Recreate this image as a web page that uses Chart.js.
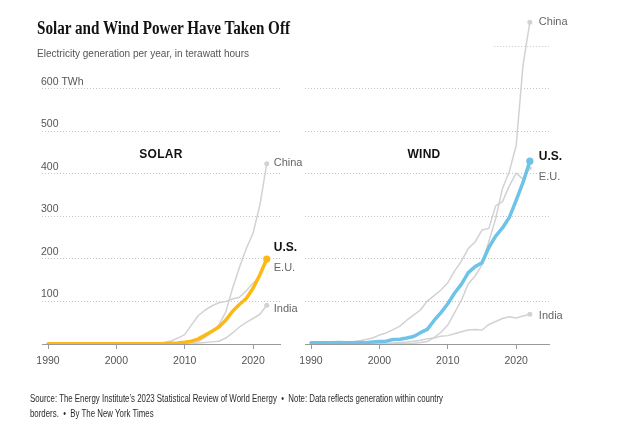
<!DOCTYPE html>
<html>
<head>
<meta charset="utf-8">
<script src="https://cdn.jsdelivr.net/npm/chart.js@4"></script>
<style>
  html, body { margin:0; padding:0; background:#fff; width:624px; height:444px; overflow:hidden; }
  body { position:relative; font-family:"Liberation Sans", Arial, sans-serif; }
  canvas { position:absolute; left:0; top:0; }
  .t { position:absolute; white-space:nowrap; line-height:1; transform-origin:0 50%; }
  .panel { position:absolute; font:bold 12px "Liberation Sans", Arial, sans-serif; letter-spacing:0.3px; color:#121212; transform:translate(-50%,-50%); white-space:nowrap; line-height:1; }
</style>
</head>
<body>
<canvas id="solar" width="624" height="444"></canvas>
<canvas id="wind" width="624" height="444"></canvas>

<div class="t" id="title" data-w="253" style="left:37px;top:17.5px;font:bold 18px 'Liberation Serif', serif;color:#121212;">Solar and Wind Power Have Taken Off</div>
<div class="t" id="sub" data-w="212" style="left:37px;top:46.5px;font:11px 'Liberation Sans', Arial, sans-serif;color:#555;">Electricity generation per year, in terawatt hours</div>
<div class="panel" style="left:161px;top:154px;">SOLAR</div>
<div class="panel" style="left:424px;top:154px;">WIND</div>
<div class="t" id="foot1" data-w="413" style="left:30px;top:392.5px;font:10px 'Liberation Sans', Arial, sans-serif;color:#2a2a2a;">Source: The Energy Institute’s 2023 Statistical Review of World Energy &nbsp;•&nbsp; Note: Data reflects generation within country</div>
<div class="t" id="foot2" style="left:30px;top:407.5px;font:10px 'Liberation Sans', Arial, sans-serif;color:#2a2a2a;">borders. &nbsp;•&nbsp; By The New York Times</div>

<script>
// ---------- DATA ----------
const YEARS = [1990,1991,1992,1993,1994,1995,1996,1997,1998,1999,
               2000,2001,2002,2003,2004,2005,2006,2007,2008,2009,
               2010,2011,2012,2013,2014,2015,2016,2017,2018,2019,
               2020,2021,2022];

const X_TICKS = [1990, 2000, 2010, 2020];
const Y_TICKS = [0, 100, 200, 300, 400, 500, 600];
const Y_TICK_LABELS = ['', '100', '200', '300', '400', '500', '600 TWh'];

// Solar generation, TWh
const SOLAR_US    = [0.4,0.5,0.4,0.5,0.5,0.5,0.5,0.5,0.5,0.5,
                     0.5,0.5,0.6,0.5,0.6,0.6,0.5,0.6,1.9,2.2,
                     3.9,6.8,12,21,30,40,56,77,93,107,
                     131,163,200];
const SOLAR_CHINA = [0,0,0,0,0,0,0,0,0,0,
                     0,0,0,0,0,0,0,0,0.2,0.4,
                     0.7,2.6,6.4,15.5,29,45,75,131,180,224,
                     261,327,424];
const SOLAR_EU    = [0,0,0,0,0,0,0,0,0,0.1,
                     0.1,0.2,0.3,0.5,0.8,1.5,2.5,4,7,14,
                     22,45,67,80,90,97,100,106,110,125,
                     143,160,198];
const SOLAR_INDIA = [0,0,0,0,0,0,0,0,0,0,
                     0,0,0,0,0,0,0,0,0,0,
                     0.1,1,2.1,3.4,5,6.6,14,26,40,51,
                     60,70,91];

// Wind generation, TWh
const WIND_US     = [3.1,3.0,2.9,3.0,3.4,3.2,3.2,3.3,3.0,4.5,
                     5.6,6.7,10.4,11.2,14.1,17.8,26.6,34.5,55.4,73.9,
                     94.7,120,141,168,182,191,227,254,273,298,
                     338,380,430];
const WIND_CHINA  = [0,0,0.1,0.1,0.1,0.1,0.2,0.3,0.4,0.5,
                     0.6,0.7,0.9,1.0,1.3,2.0,3.7,5.7,14.8,27.6,
                     44.6,74,103,142,160,186,241,295,366,406,
                     467,656,757];
const WIND_EU     = [0.8,1.1,1.6,2.3,3.2,4.0,5.1,7.3,10.6,14,
                     21,26,34,42,56,68,80,101,114,127,
                     144,172,195,225,240,268,272,325,335,372,
                     402,388,414];
const WIND_INDIA  = [0,0,0.1,0.1,0.2,0.6,1.0,1.0,1.1,1.3,
                     1.7,2.0,2.5,3.5,4.5,6.3,9,12.5,14,18.5,
                     19.7,24,29,33,34,33,46,53,60,64,
                     61,66,70];

// ---------- STYLE ----------
const GRAY = '#d2d2d2';
const GRID = '#c4c4c4';
const AXIS = '#9a9a9a';
const SOLAR_COLOR = '#fdb913';
const WIND_COLOR = '#6dc3e8';
const LABEL_GRAY = '#666';
const FONT = '"Liberation Sans", Arial, sans-serif';

const pts = vals => YEARS.map((x, i) => ({ x, y: vals[i] }));

function lastOnly(r) {
  return ctx => (ctx.dataIndex === ctx.dataset.data.length - 1 ? r : 0);
}

function seriesHighlight(label, vals, color, dy) {
  return {
    label, data: pts(vals), borderColor: color, backgroundColor: color,
    borderWidth: 3.5, pointRadius: lastOnly(3.6), pointBorderWidth: 0,
    pointBackgroundColor: color, tension: 0, borderCapStyle: 'round', borderJoinStyle: 'round',
    endLabel: label, endLabelFont: 'bold 12px ' + FONT, endLabelColor: '#121212', endLabelDy: dy
  };
}
function seriesGray(label, vals, dot, dy) {
  return {
    label, data: pts(vals), borderColor: GRAY, backgroundColor: GRAY,
    borderWidth: 1.5, pointRadius: lastOnly(dot), pointBorderWidth: 0,
    pointBackgroundColor: GRAY, tension: 0, borderJoinStyle: 'round',
    endLabel: label, endLabelFont: '11px ' + FONT, endLabelColor: LABEL_GRAY, endLabelDy: dy
  };
}

const endLabels = {
  id: 'endLabels',
  afterDatasetsDraw(chart, args, opts) {
    const ctx = chart.ctx;
    chart.data.datasets.forEach((ds, i) => {
      if (!ds.endLabel) return;
      const meta = chart.getDatasetMeta(i);
      const pt = meta.data[meta.data.length - 1];
      ctx.save();
      ctx.font = ds.endLabelFont;
      ctx.fillStyle = ds.endLabelColor;
      ctx.textBaseline = 'middle';
      ctx.textAlign = 'left';
      ctx.fillText(ds.endLabel, pt.x + (opts.dx || 7), pt.y + ds.endLabelDy);
      ctx.restore();
    });
  }
};

const partialGrid = {
  id: 'partialGrid',
  beforeDatasetsDraw(chart, args, opts) {
    if (!opts || opts.value == null) return;
    const xs = chart.scales.x, ys = chart.scales.y, ctx = chart.ctx;
    const py = Math.round(ys.getPixelForValue(opts.value)) + 0.5;
    ctx.save();
    ctx.strokeStyle = GRID; ctx.lineWidth = 1; ctx.setLineDash([1, 2]);
    ctx.beginPath();
    ctx.moveTo(xs.getPixelForValue(opts.from), py);
    ctx.lineTo(chart.chartArea.right, py);
    ctx.stroke();
    ctx.restore();
  }
};

function makeChart(id, datasets, o) {
  return new Chart(document.getElementById(id), {
    type: 'line',
    data: { datasets },
    plugins: [endLabels, partialGrid],
    options: {
      responsive: false, animation: false, devicePixelRatio: 1,
      layout: { padding: o.padding },
      plugins: {
        legend: { display: false }, tooltip: { enabled: false }, title: { display: false },
        endLabels: { dx: o.labelDx },
        partialGrid: o.partialGrid || {}
      },
      scales: {
        x: {
          type: 'linear', min: o.xmin, max: o.xmax,
          afterBuildTicks: s => { s.ticks = X_TICKS.map(v => ({ value: v })); },
          afterFit: s => { s.height = 30; },
          grid: { display: true, drawOnChartArea: false, drawTicks: true, tickLength: 5, color: AXIS, tickColor: AXIS },
          border: { display: true, color: AXIS, width: 1 },
          ticks: { color: '#555', font: { family: FONT, size: 10.5 }, padding: 6, maxRotation: 0, autoSkip: false,
                   callback: v => String(v) }
        },
        y: {
          type: 'linear', min: 0, max: 774,
          afterBuildTicks: s => { s.ticks = Y_TICKS.map(v => ({ value: v })); },
          afterFit: s => { s.width = 0; },
          grid: { display: true, drawTicks: false, color: GRID, lineWidth: 1 },
          border: { display: false, dash: [1, 2] },
          ticks: { display: o.yLabels, mirror: true, padding: -1, labelOffset: -7, color: '#555',
                   font: { family: FONT, size: 10.5 }, z: 1,
                   callback: v => Y_TICK_LABELS[Y_TICKS.indexOf(v)] }
        }
      }
    }
  });
}

makeChart('solar', [
  seriesHighlight('U.S.', SOLAR_US, SOLAR_COLOR, -11),
  seriesGray('China', SOLAR_CHINA, 2.5, -1),
  seriesGray('E.U.', SOLAR_EU, 0, 8),
  seriesGray('India', SOLAR_INDIA, 2.5, 4)
], { padding: { left: 42, right: 344, top: 15, bottom: 70 }, xmin: 1989.12, xmax: 2023.94, yLabels: true, labelDx: 7 });

makeChart('wind', [
  seriesHighlight('U.S.', WIND_US, WIND_COLOR, -5),
  seriesGray('China', WIND_CHINA, 2.5, 0),
  seriesGray('E.U.', WIND_EU, 2, 9),
  seriesGray('India', WIND_INDIA, 2.5, 2)
], { padding: { left: 305, right: 75, top: 15, bottom: 70 }, xmin: 1989.12, xmax: 2024.8, yLabels: false, labelDx: 9,
     partialGrid: { value: 700, from: 2016.8 } });

// ---------- text width fitting ----------
function fitText() {
  ['title', 'sub', 'foot1'].forEach(id => {
    const el = document.getElementById(id);
    el.style.transform = 'none';
    const nat = el.getBoundingClientRect().width;
    const s = (+el.dataset.w) / nat;
    el.style.transform = 'scaleX(' + s + ')';
    if (id === 'foot1') document.getElementById('foot2').style.transform = 'scaleX(' + s + ')';
  });
}
fitText();
</script>
</body>
</html>
